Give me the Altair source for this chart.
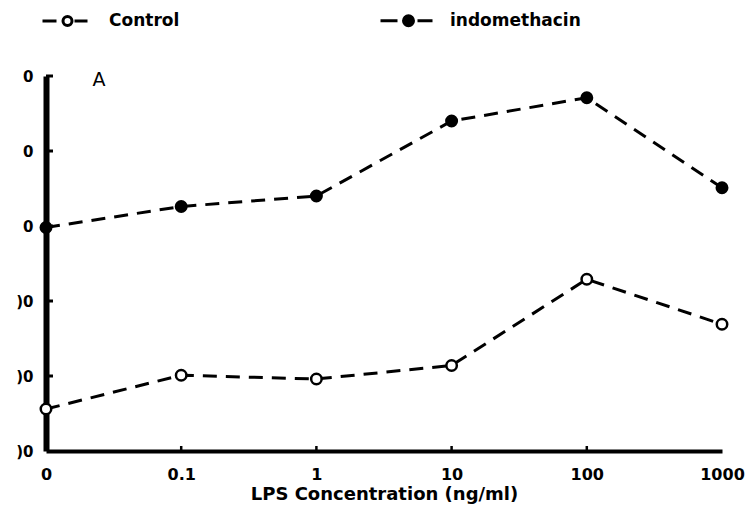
import json
import altair as alt
import pandas as pd

# ---- data ----
x_labels = ["0", "0.1", "1", "10", "100", "1000"]
control = [5.6, 10.1, 9.6, 11.4, 22.9, 16.9]
indomethacin = [29.8, 32.6, 34.0, 44.0, 47.1, 35.1]
series_names = ["Control", "indomethacin"]
y_ticks = [0, 10, 20, 30, 40, 50]
y_tick_labels = [")0", ")0", ")0", "0", "0", "0"]
x_title = "LPS Concentration (ng/ml)"
panel_label = "A"

rows = []
for i, lab in enumerate(x_labels):
    rows.append({"idx": i, "series": series_names[0], "value": control[i]})
    rows.append({"idx": i, "series": series_names[1], "value": indomethacin[i]})
df = pd.DataFrame(rows)

W, H = 676, 375
FONT = "DejaVu Sans"

x_expr = json.dumps(x_labels) + "[datum.value]"
y_expr = json.dumps(y_tick_labels) + "[datum.value / 10]"

xscale = alt.Scale(domain=[0, 5], nice=False, zero=False)
yscale = alt.Scale(domain=[0, 50], nice=False)

x_axis = alt.Axis(
    values=list(range(len(x_labels))), labelExpr=x_expr, title=x_title,
    domainWidth=4, domainColor="black", ticks=False, grid=False,
    labelPadding=15, labelFont=FONT, labelFontSize=16, labelFontWeight="bold",
    labelColor="black", labelFlush=False,
    titleFont=FONT, titleFontSize=18, titleFontWeight="bold", titleColor="black",
    titlePadding=3,
)
y_axis = alt.Axis(
    values=y_ticks, labelExpr=y_expr, title=None,
    domainWidth=6, domainColor="black", ticks=False, grid=False,
    labelPadding=13, labelFont=FONT, labelFontSize=15, labelFontWeight="bold",
    labelColor="black",
)

fill_scale = alt.Scale(domain=series_names, range=["white", "black"])
ctrl_path = "M-5,0H-2.2 M1.4,0H4 M0.9,0A0.9,0.9 0 1,1 -0.9,0A0.9,0.9 0 1,1 0.9,0Z"
indo_path = "M-5.6,0H-2.2 M1.8,0H4.8 M1,0A1,1 0 1,1 -1,0A1,1 0 1,1 1,0Z"
shape_scale = alt.Scale(domain=series_names, range=[ctrl_path, indo_path])

legend = alt.Legend(
    title=None, orient="none", legendX=13, legendY=-64, direction="horizontal",
    labelOffset=33, labelFont=FONT, labelFontSize=17, labelFontWeight="bold",
    labelColor="black", symbolSize=100, symbolStrokeWidth=3,
    symbolStrokeColor="black", columnPadding=194, padding=0,
)

X = alt.X("idx:Q", scale=xscale, axis=x_axis)
Y = alt.Y("value:Q", scale=yscale, axis=y_axis)

base = alt.Chart(df)

lines = base.mark_line(strokeDash=[14, 9], strokeWidth=3, color="black").encode(
    x=X, y=Y, detail="series:N",
)

points = base.mark_point(filled=True, stroke="black", strokeWidth=2.5, size=110, opacity=1, shape="circle").encode(
    x=X, y=Y,
    fill=alt.Fill("series:N", scale=fill_scale, legend=legend),
)

legend_layer = base.transform_filter("false").mark_point(
    filled=True, stroke="black", strokeWidth=3, opacity=1
).encode(
    x=X, y=Y,
    shape=alt.Shape("series:N", scale=shape_scale, legend=legend),
    fill=alt.Fill("series:N", scale=fill_scale, legend=legend),
)

ytick_df = pd.DataFrame({"value": y_ticks[1:]})
y_tick_rules = alt.Chart(ytick_df).mark_rule(strokeWidth=3, color="black").encode(
    y=Y,
    x=alt.value(0),
    x2=alt.value(7),
)

xtick_df = pd.DataFrame({"idx": list(range(1, len(x_labels) - 1))})
x_tick_rules = alt.Chart(xtick_df).mark_rule(strokeWidth=2.5, color="black").encode(
    x=X,
    y=alt.value(H - 5),
    y2=alt.value(H),
)

label_a = alt.Chart(pd.DataFrame({"t": [panel_label]})).mark_text(
    font=FONT, fontSize=19, color="black", baseline="middle", align="center"
).encode(text="t:N", x=alt.value(53), y=alt.value(4))

chart = alt.layer(lines, y_tick_rules, x_tick_rules, points, legend_layer, label_a).properties(
    width=W, height=H,
    padding={"left": 38, "top": 68, "right": 25, "bottom": 54},
    autosize=alt.AutoSizeParams(type="none"),
).configure_view(stroke=None)

chart.save("out.html", embed_options={"renderer": "svg", "actions": False})
